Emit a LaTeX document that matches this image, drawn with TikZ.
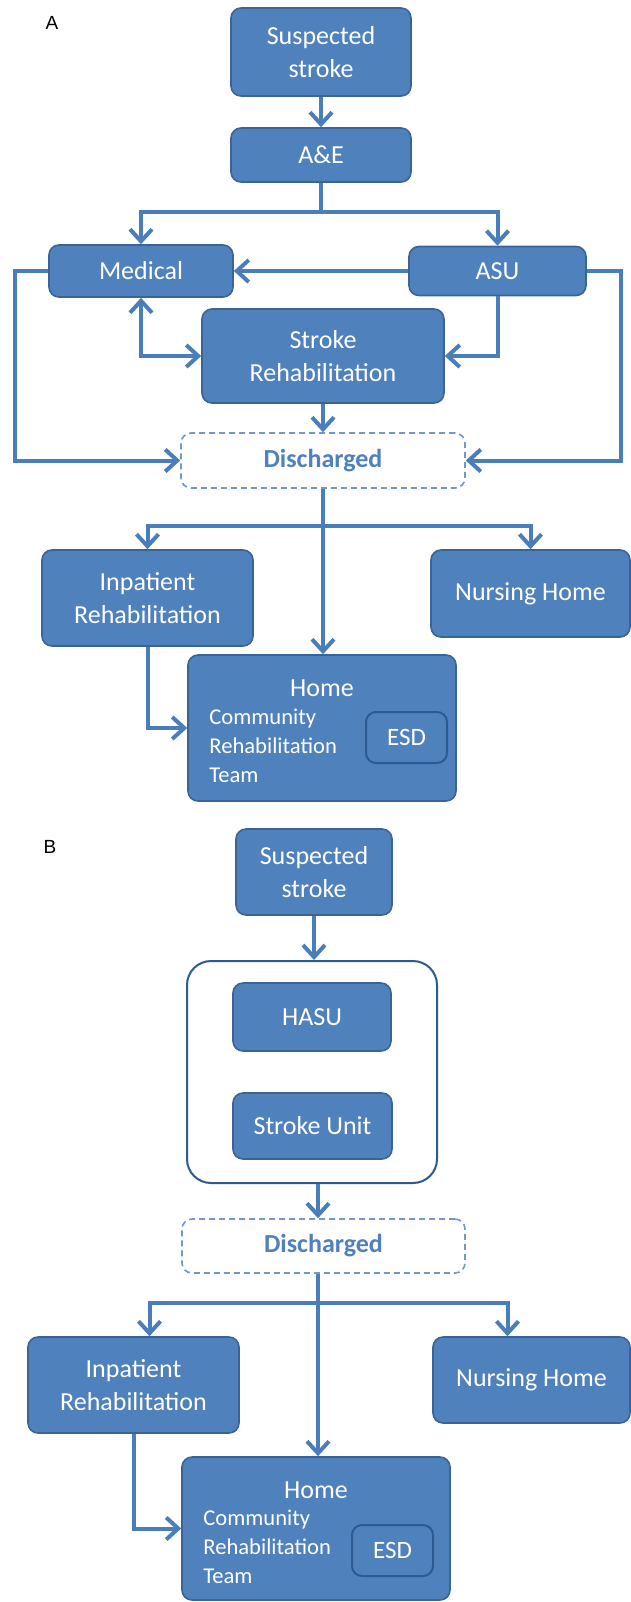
\documentclass[tikz,border=0pt]{standalone}
\usepackage{fontspec}
\setmainfont{Carlito}
\newfontfamily\panelfont{Liberation Sans}
\usetikzlibrary{positioning,calc,arrows.meta}

\definecolor{boxfill}{HTML}{4F81BD}
\definecolor{boxedge}{HTML}{3B6496}
\definecolor{linkblue}{HTML}{4A7EBB}
\definecolor{unitedge}{HTML}{2C5A91}
\definecolor{dashblue}{HTML}{6F98CB}

\begin{document}
\begin{tikzpicture}[x=0.5pt,y=-0.5pt,
	link/.style={draw=linkblue,line width=2pt},
	flow/.style={link,-{Straight Barb[length=6pt,width=11pt]}},
	flow both/.style={link,{Straight Barb[length=6pt,width=11pt]}-{Straight Barb[length=6pt,width=11pt]}},
	main node/.style={draw=boxedge,fill=boxfill,line width=0.8pt,rounded corners=5pt,
		text=white,align=center,inner sep=0pt,font=\fontsize{13}{16.5}\selectfont},
	discharge node/.style={draw=dashblue,dash pattern=on 3pt off 2pt,line width=0.8pt,
		rounded corners=5pt,fill=white,text=boxfill,font=\bfseries\fontsize{13}{16.5}\selectfont},
	group node/.style={draw=unitedge,fill=white,line width=1pt,rounded corners=12pt},
	esd node/.style={main node,draw=unitedge,line width=1pt,minimum width=40.5pt,minimum height=25.5pt,
		font=\fontsize{12.5}{15}\selectfont},
	team/.style={anchor=west,align=left,text=white,inner sep=0pt,font=\fontsize{11.3}{14.5}\selectfont},
	panel/.style={font=\panelfont\fontsize{9.5}{11}\selectfont}]

	\useasboundingbox (0,0) rectangle (631,1602);

	% A
	\node[panel] (labA) at (52,23) {A};
	\node[main node,minimum width=90pt,minimum height=44pt] (susA) at (321,52) {Suspected\\stroke};
	\node[main node,minimum width=90pt,minimum height=27pt] (ae) at (321,155) {A\&E};
	\node[main node,minimum width=92pt,minimum height=26pt] (med) at (141,271) {Medical};
	\node[main node,minimum width=88.5pt,minimum height=24.5pt] (asu) at (497.5,271) {ASU};
	\node[main node,minimum width=121pt,minimum height=47pt] (rehab) at (323,356) {Stroke\\Rehabilitation};
	\node[discharge node,minimum width=142pt,minimum height=27.5pt] (disA) at (323,460.5) {Discharged};
	\node[main node,minimum width=105.5pt,minimum height=48pt] (inpA) at (147.5,598) {Inpatient\\Rehabilitation};
	\node[main node,minimum width=99.5pt,minimum height=43.5pt] (nurA) at (530.5,593.5) {Nursing Home};
	\node[main node,minimum width=134pt,minimum height=73pt] (homeA) at (322,728) {};
	\node[text=white,font=\fontsize{13}{16.5}\selectfont] (homeAt) at (322,688) {Home};
	\node[team] (teamA) at (209,746) {Community\\Rehabilitation\\Team};
	\node[esd node] (esdA) at (406.5,737.5) {ESD};

	\coordinate (forkA) at (321,212);
	\coordinate (forkA2) at (323,526);
	\draw[flow] (susA) -- (ae);
	\draw[link] (ae) -- (forkA);
	\draw[flow] (forkA) -| (med);
	\draw[flow] (forkA) -| (asu);
	\draw[flow] (asu.west) -- (asu.west -| med.east);
	\draw[flow both] (med) |- (rehab);
	\draw[flow] (asu) |- (rehab);
	\draw[flow] (rehab) -- (rehab |- disA.north);
	\draw[flow] (med.west) -- ++(-33,0) |- (disA);
	\draw[flow] (asu.east) -- ++(34,0) |- (disA);
	\draw[flow] (disA) -- (disA |- homeA.north);
	\draw[flow] (forkA2) -| (inpA);
	\draw[flow] (forkA2) -| (nurA);
	\draw[flow] (inpA) |- (homeA);

	% B
	\node[panel] (labB) at (50,847) {B};
	\node[main node,minimum width=78pt,minimum height=43pt] (susB) at (314,872) {Suspected\\stroke};
	\node[group node,minimum width=125pt,minimum height=111pt] (unitB) at (312,1072) {};
	\node[main node,minimum width=79pt,minimum height=34pt] (hasu) at (312,1017) {HASU};
	\node[main node,minimum width=79.5pt,minimum height=33pt] (su) at (312.5,1126) {Stroke Unit};
	\node[discharge node,minimum width=141.5pt,minimum height=27pt] (disB) at (323.5,1246) {Discharged};
	\node[main node,minimum width=105.5pt,minimum height=48pt] (inpB) at (133.5,1385) {Inpatient\\Rehabilitation};
	\node[main node,minimum width=98.5pt,minimum height=43pt] (nurB) at (531.5,1380) {Nursing Home};
	\node[main node,minimum width=134pt,minimum height=71.5pt] (homeB) at (316,1528.5) {};
	\node[text=white,font=\fontsize{13}{16.5}\selectfont] (homeBt) at (316,1490) {Home};
	\node[team] (teamB) at (203,1547) {Community\\Rehabilitation\\Team};
	\node[esd node] (esdB) at (392.5,1550.5) {ESD};

	\coordinate (forkB) at (318,1303);
	\draw[flow] (susB) -- (susB |- unitB.north);
	\draw[flow] (unitB.south -| forkB) -- (forkB |- disB.north);
	\draw[link] (disB.south -| forkB) -- (forkB);
	\draw[flow] (forkB) -- (forkB |- homeB.north);
	\draw[flow] (forkB) -| ([xshift=8pt]inpB.north);
	\draw[flow] (forkB) -| ([xshift=-12pt]nurB.north);
	\draw[flow] (inpB) |- (homeB);
\end{tikzpicture}
\end{document}
